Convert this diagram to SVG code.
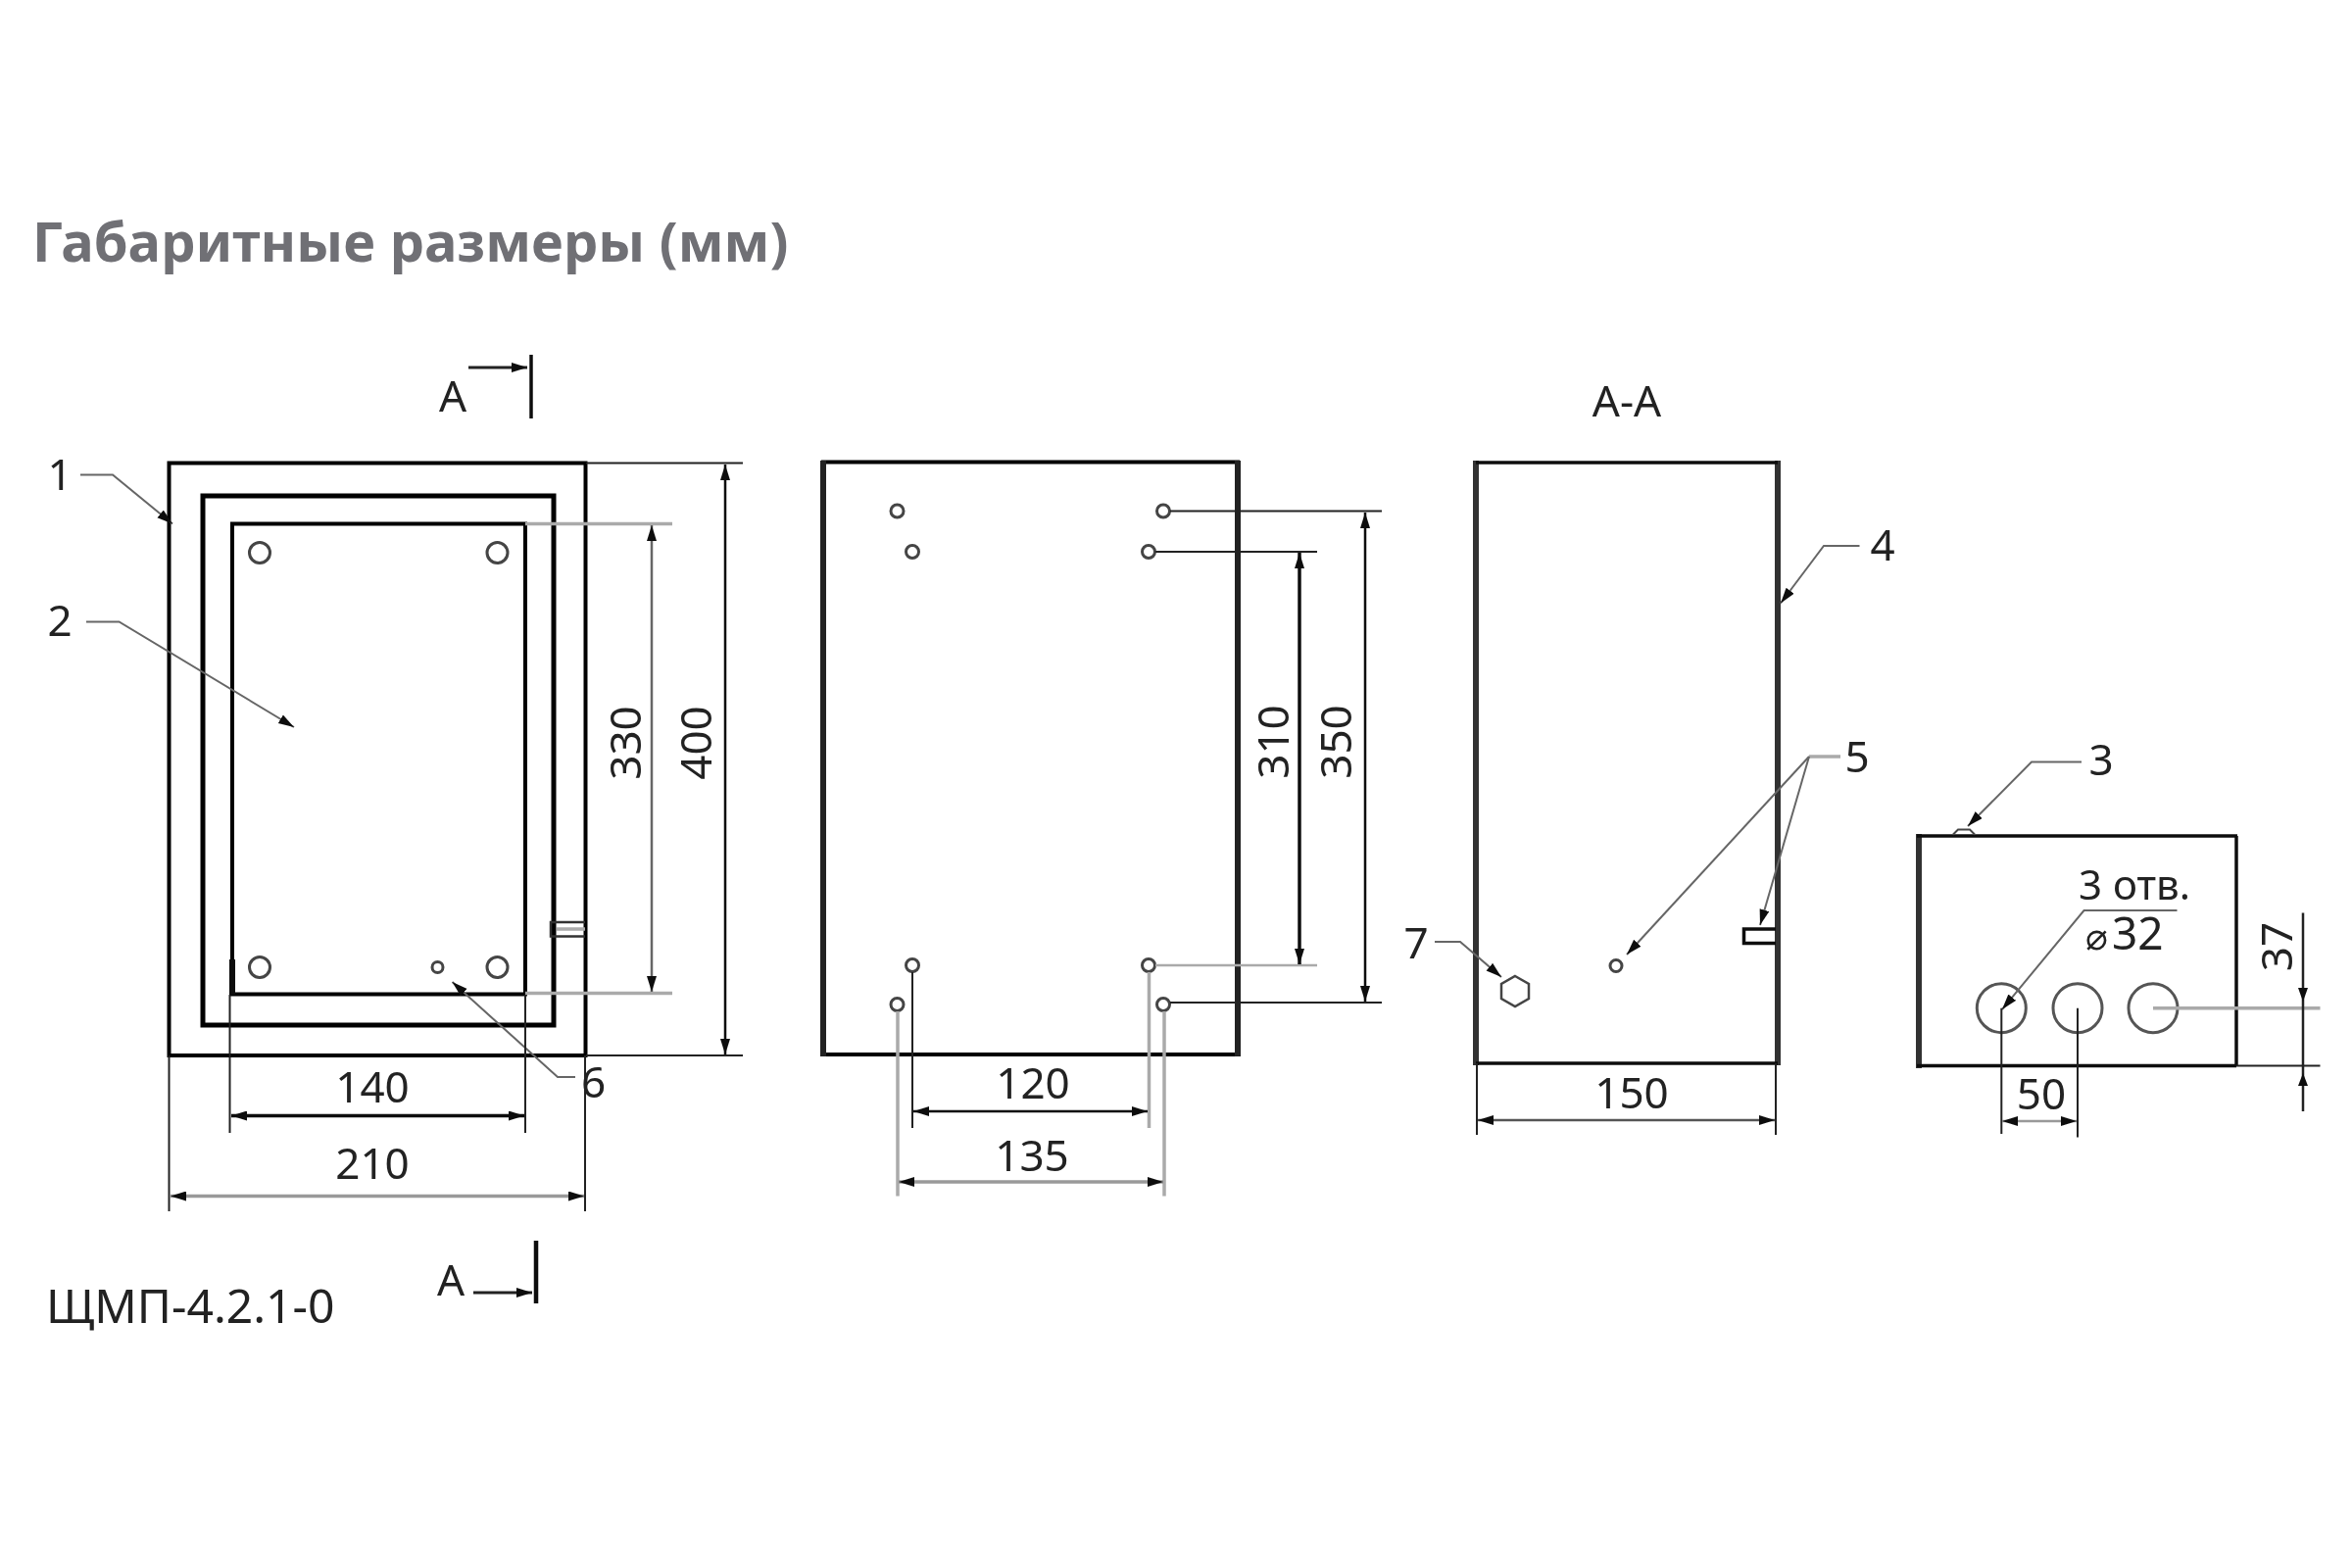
<svg xmlns="http://www.w3.org/2000/svg" width="2400" height="1600" viewBox="0 0 2400 1600">
<style>
text{font-family:"Noto Sans","Liberation Sans",sans-serif;fill:#222}
.t{font-size:44px;text-anchor:middle}
.title{font-size:56px;font-weight:700;fill:#6f6f75}
.model{font-size:48px;fill:#222}
.body{fill:#fff;stroke:#000;stroke-width:4}
.hole{fill:#fff;stroke:#444;stroke-width:3}
.ext{fill:none;stroke:#222;stroke-width:2}
.gray{fill:none;stroke:#aaa;stroke-width:3.5}
.dim{fill:none;stroke:#111;stroke-width:2.5;marker-start:url(#as);marker-end:url(#ae)}
.dimg{fill:none;stroke:#999;stroke-width:3.5;marker-start:url(#as);marker-end:url(#ae)}
.lead{fill:none;stroke:#666;stroke-width:2;marker-end:url(#ae)}
.bar{stroke:#111;stroke-width:3.5;fill:none}
.arrowline{fill:none;stroke:#222;stroke-width:3;marker-end:url(#ae)}
</style>
<defs>
<marker id="ae" markerUnits="userSpaceOnUse" markerWidth="18" markerHeight="12" refX="16" refY="5" orient="auto"><path d="M0 0L16 5L0 10z" fill="#111"/></marker>
<marker id="as" markerUnits="userSpaceOnUse" markerWidth="18" markerHeight="12" refX="0" refY="5" orient="auto"><path d="M16 0L0 5L16 10z" fill="#111"/></marker>
<filter id="soft" x="0" y="0" width="100%" height="100%"><feGaussianBlur stdDeviation="0.6"/></filter>
</defs>
<rect width="2400" height="1600" fill="#fff"/>
<g filter="url(#soft)">
<text id="title" class="title" x="33" y="267">Габаритные размеры (мм)</text>
<text id="model" class="model" x="47" y="1350">ЩМП-4.2.1-0</text>

<g id="view-front">
<rect class="body" x="172.5" y="472.5" width="425" height="604.5"/>
<rect class="body" x="207" y="506" width="358" height="540" style="stroke-width:5"/>
<rect class="body" x="237" y="534.5" width="299" height="480"/>
<path class="bar" d="M237 979V1015" style="stroke-width:6"/>
<circle class="hole" cx="265" cy="564" r="10.5"/>
<circle class="hole" cx="507.5" cy="564" r="10.5"/>
<circle class="hole" cx="265" cy="987" r="10.5"/>
<circle class="hole" cx="507.5" cy="987" r="10.5"/>
<circle class="hole" cx="446.5" cy="987" r="5.5"/>
<path d="M597 941H562V955.5H597" fill="none" stroke="#333" stroke-width="2.5"/>
<path d="M568 948H597" class="gray"/>
</g>
<g id="view-back">
<rect class="body" x="840" y="471.5" width="423" height="604.5"/>
<path d="M840 470V1078M1263 470V1078" fill="none" stroke="#222" stroke-width="6"/>
<circle class="hole" cx="915.5" cy="521.5" r="6.5"/>
<circle class="hole" cx="1187" cy="521.5" r="6.5"/>
<circle class="hole" cx="931" cy="563" r="6.5"/>
<circle class="hole" cx="1172" cy="563" r="6.5"/>
<circle class="hole" cx="931" cy="985" r="6.5"/>
<circle class="hole" cx="1172" cy="985" r="6.5"/>
<circle class="hole" cx="915.5" cy="1025" r="6.5"/>
<circle class="hole" cx="1187" cy="1025" r="6.5"/>
</g>
<g id="view-section">
<path d="M1506 470V1087M1814 470V1087" fill="none" stroke="#333" stroke-width="6"/>
<path d="M1506 472H1814M1506 1085H1814" fill="none" stroke="#111" stroke-width="3.5"/>
<circle class="hole" cx="1649" cy="985.5" r="6"/>
<path d="M1812 948H1779.5V962.5H1812" fill="none" stroke="#111" stroke-width="3.5"/>
<path d="M1546 996L1560 1004V1019L1546 1027L1532 1019V1004Z" fill="none" stroke="#444" stroke-width="2.5"/>
</g>
<g id="view-bottom">
<path d="M1958 851V1090" fill="none" stroke="#333" stroke-width="6"/>
<path d="M1956 853H2283M2282 853V1088M1956 1087.5H2282" fill="none" stroke="#111" stroke-width="3.5"/>
<path d="M1993 851.5L1998 846.5H2010L2015 851.5" fill="none" stroke="#444" stroke-width="2"/>
<circle cx="2042.3" cy="1028.7" r="25" fill="none" stroke="#555" stroke-width="3"/>
<circle cx="2120" cy="1028.7" r="25" fill="none" stroke="#555" stroke-width="3"/>
<circle cx="2197" cy="1028.7" r="25" fill="none" stroke="#555" stroke-width="3"/>
</g>

<g id="connectors">
<path class="arrowline" d="M478 375H538"/>
<path class="bar" d="M542 362V427"/>
<path class="arrowline" d="M483 1319H543"/>
<path class="bar" d="M547 1266V1330" style="stroke-width:4.5"/>

<path class="lead" d="M82 484.5H115L176 534.5"/>
<path class="lead" d="M88 634.5H121.5L300 742"/>
<path class="lead" d="M587 1099H569L461.5 1002"/>

<path class="gray" d="M536 534.5H686M536 1013.5H686"/>
<path class="dim" d="M665 536V1012" style="stroke:#666"/>
<path class="ext" d="M598 472.5H758M598 1077H758"/>
<path class="dim" d="M740 474V1076"/>
<path class="ext" d="M234.5 1015V1156M536 1015V1156M172.5 1077V1236M597 1077V1236"/>
<path class="dim" d="M236 1138.5H535" style="stroke-width:3.5"/>
<path class="dimg" d="M174 1220.5H596"/>

<path class="ext" d="M1194 521.5H1410M1179 563H1344"/>
<path class="gray" d="M1179 985H1344" style="stroke-width:2.5"/>
<path class="ext" d="M1194 1023H1410"/>
<path class="dim" d="M1326 564V984" style="stroke-width:3.5"/>
<path class="dim" d="M1393 523V1022"/>
<path class="ext" d="M931 992V1151"/>
<path class="gray" d="M1172.5 992V1151M916 1032V1220.5M1188 1032V1220.5"/>
<path class="dim" d="M932 1134H1171"/>
<path class="dimg" d="M917 1206H1187"/>

<path class="lead" d="M1897.5 557H1861L1817 615.5"/>
<path class="gray" d="M1878 772H1846"/>
<path class="lead" d="M1846 772L1660 974"/>
<path class="lead" d="M1846 772L1796 944"/>
<path class="lead" d="M1464 961H1490L1532 997"/>
<path class="ext" d="M1507 1085V1158M1812 1085V1158"/>
<path class="dim" d="M1508 1143H1811" style="stroke:#555"/>

<path class="lead" d="M2124 777.5H2073L2008 843"/>
<path class="lead" d="M2221.5 929H2126.5L2043 1030"/>
<path class="gray" d="M2197 1028.7H2367.5"/>
<path class="ext" d="M2282 1087.5H2367.5"/>
<path class="ext" d="M2042.3 1028.7V1157M2120 1028.7V1160.5"/>
<path class="dimg" d="M2043 1144H2119" style="stroke-width:2.5"/>
<path class="ext" d="M2350 931.5V1134" style="stroke-width:2.5"/>
<path d="M2345 1008H2355L2350 1022zM2345 1108H2355L2350 1095z" fill="#111"/>
</g>

<g id="labels">
<text class="t" x="462" y="420">А</text>
<text class="t" x="460" y="1322">А</text>
<text class="t" x="1660" y="425">А-А</text>
<text class="t" x="61" y="500">1</text>
<text class="t" x="61" y="649">2</text>
<text class="t" x="605.5" y="1120">6</text>
<text class="t" x="1921" y="572">4</text>
<text class="t" x="1895" y="788">5</text>
<text class="t" x="1445" y="978">7</text>
<text class="t" x="2144" y="791">3</text>
<text class="t" transform="translate(654 758) rotate(-90)">330</text>
<text class="t" transform="translate(726 758) rotate(-90)">400</text>
<text class="t" transform="translate(1315 757) rotate(-90)">310</text>
<text class="t" transform="translate(1379 757) rotate(-90)">350</text>
<text class="t" transform="translate(2339 966) rotate(-90)">37</text>
<text class="t" x="380" y="1125">140</text>
<text class="t" x="380" y="1203">210</text>
<text class="t" x="1054" y="1121">120</text>
<text class="t" x="1053" y="1195">135</text>
<text class="t" x="1665" y="1131">150</text>
<text class="t" x="2083" y="1132">50</text>
<text class="t" x="2178" y="918" style="font-size:42px">3 отв.</text>
<text x="2128" y="969" font-size="46"><tspan font-family="DejaVu Sans" font-size="38">⌀</tspan><tspan x="2155">32</tspan></text>
</g>
</g>
</svg>
